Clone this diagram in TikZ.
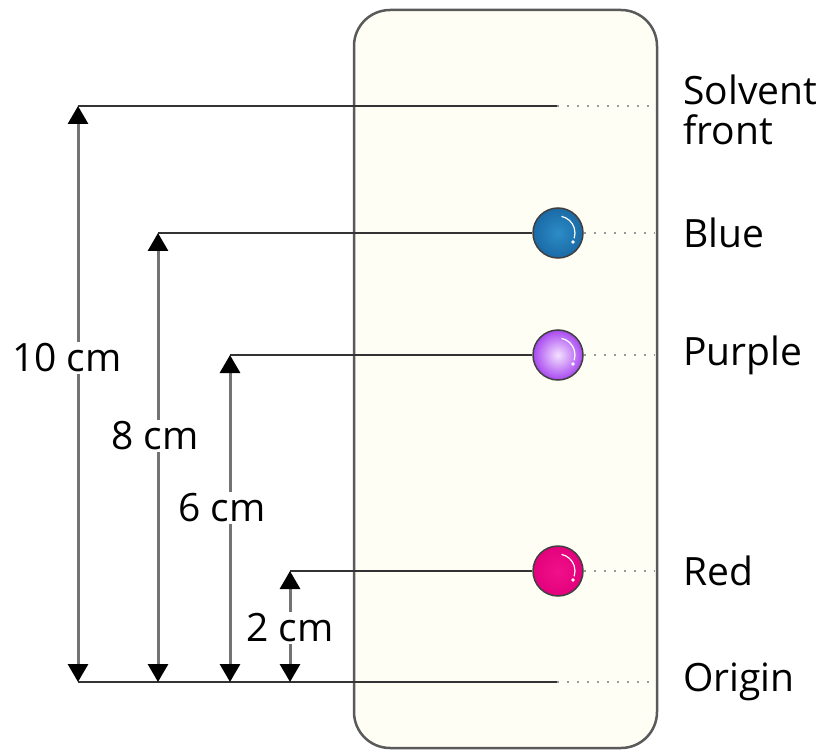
\documentclass[tikz,border=0pt]{standalone}
\usepackage{fontspec}
\setmainfont{Open Sans}
\usetikzlibrary{arrows.meta}
\definecolor{plate}{HTML}{FEFEF4}
\definecolor{edge}{HTML}{5A5A5A}
\definecolor{bluedot}{HTML}{1A6AA6}
\definecolor{bluein}{HTML}{2C8CC6}
\definecolor{purpdot}{HTML}{A848F0}
\definecolor{purpin}{HTML}{F4E0FF}
\definecolor{reddot}{HTML}{E4007C}
\definecolor{redin}{HTML}{F0108A}
\tikzset{
  hline/.style={draw=black!80, line width=2.2pt},
  dotline/.style={draw=black!40, line width=2pt, dash pattern=on 2pt off 8pt},
  dim/.style={draw=black!55, line width=3pt, {Triangle[width=20pt,length=18pt,black]}-{Triangle[width=20pt,length=18pt,black]}},
  dimlabel/.style={fill=white, inner sep=2pt, font=\fontsize{39}{44}\selectfont},
  rlabel/.style={anchor=west, inner sep=0pt, font=\fontsize{39}{40}\selectfont, align=left},
  spot/.style={circle, minimum size=50pt, inner sep=0pt, draw=black!75, line width=1.5pt},
}
\begin{document}
\begin{tikzpicture}[x=1pt,y=-1pt]
\useasboundingbox (0,0) rectangle (832,751);
% plate
\draw[draw=edge, line width=2.5pt, fill=plate, rounded corners=36pt] (354,10) rectangle (657,748);
% coordinates
\coordinate (sfL) at (78,106);
\coordinate (sfR) at (557,106);
\coordinate (sfE) at (655,106);
\coordinate (orL) at (78,682);
\coordinate (orR) at (557,682);
\coordinate (orE) at (655,682);
\coordinate (bL) at (158,233);
\coordinate (bE) at (655,233);
\coordinate (pL) at (230,355);
\coordinate (pE) at (655,355);
\coordinate (rL) at (290,571);
\coordinate (rE) at (655,571);
\coordinate (o8) at (158,682);
\coordinate (o6) at (230,682);
\coordinate (o2) at (290,682);
% spots
\node[spot, inner color=bluein, outer color=bluedot] (blue) at (558,233) {};
\node[spot, inner color=purpin, outer color=purpdot] (purple) at (558,355) {};
\node[spot, inner color=redin, outer color=reddot] (red) at (558,571) {};
\foreach \s in {blue,purple,red}{
  \draw[white, line width=1.2pt] (\s.center) ++(-78:17) arc[start angle=-78, end angle=18, radius=17];
  \fill[white] ([shift={(15,9)}]\s.center) circle (1.8);
}
% horizontal lines
\draw[hline] (sfL) -- (sfR);
\draw[dotline] (sfR) -- (sfE);
\draw[hline] (orL) -- (orR);
\draw[dotline] (orR) -- (orE);
\draw[hline] (bL) -- (blue.west);
\draw[dotline] (blue.east) -- (bE);
\draw[hline] (pL) -- (purple.west);
\draw[dotline] (purple.east) -- (pE);
\draw[hline] (rL) -- (red.west);
\draw[dotline] (red.east) -- (rE);
% dimension arrows
\draw[dim] (orL) -- (sfL);
\draw[dim] (o8) -- (bL);
\draw[dim] (o6) -- (pL);
\draw[dim] (o2) -- (rL);
\node[dimlabel] (l10) at (67,358) {10 cm};
\node[dimlabel] (l8) at (155,436) {8 cm};
\node[dimlabel] (l6) at (222,508) {6 cm};
\node[dimlabel] (l2) at (290,628) {2 cm};
% right labels
\node[rlabel] (tsf) at (683,110) {Solvent\\front};
\node[rlabel] (tb) at (683,233) {Blue};
\node[rlabel] (tp) at (683,355) {Purple};
\node[rlabel] (tr) at (683,571) {Red};
\node[rlabel] (to) at (683,682) {Origin};
\end{tikzpicture}
\end{document}
